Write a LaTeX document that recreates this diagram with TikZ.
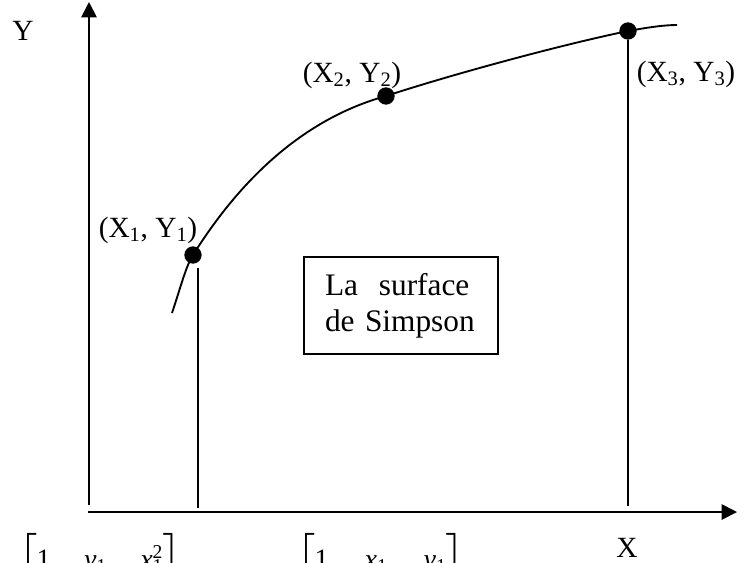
\documentclass[tikz,border=0pt]{standalone}
\usepackage{fontspec}
\setmainfont{Liberation Serif}
\usepackage{amsmath}
\usetikzlibrary{arrows.meta}
\providecommand{\ix}[1]{\textsubscript{#1}}
\providecommand{\xsq}{\textit{x}\rlap{\textsuperscript{2}}\ix{1}}
\tikzset{
  axe/.style   ={line width=1.4pt,-{Triangle[length=11.5pt,width=11.5pt]}},
  courbe/.style={line width=1.4pt},
  vlin/.style  ={line width=1.3pt},
  pnt/.style   ={circle,fill=black,inner sep=0pt,minimum size=13pt},
  lbl/.style   ={font=\fontsize{22}{26}\selectfont,inner sep=0pt},
  sbox/.style  ={draw,line width=1.3pt,align=left,text width=114pt,inner xsep=15.75pt,
                 minimum height=72.75pt,font=\fontsize{23.5}{27}\selectfont},
  mtx/.style   ={font=\fontsize{21}{25}\selectfont,inner sep=0pt,anchor=north west},
}

\begin{document}
\begin{tikzpicture}[x=0.75pt,y=-0.75pt]
  \useasboundingbox (0,0) rectangle (752,562);

  % ---------- axes ----------
  \coordinate (oy) at (89,505);
  \coordinate (ty) at (89,2);
  \coordinate (ox) at (88,512);
  \coordinate (tx) at (737,512);
  \draw[axe] (oy) -- (ty);
  \draw[axe] (ox) -- (tx);
  \node[lbl] (yl) at (23,31) {Y};
  \node[lbl] (xl) at (627,548) {X};

  % ---------- points ----------
  \node[pnt] (p1) at (193,255) {};
  \node[pnt] (p2) at (386,96) {};
  \node[pnt] (p3) at (628,31) {};
  \node[lbl] (l1) at (148,230) {(X\ix{1}, Y\ix{1})};
  \node[lbl] (l2) at (352,75) {(X\ix{2}, Y\ix{2})};
  \node[lbl] (l3) at (686,74) {(X\ix{3}, Y\ix{3})};

  % ---------- courbe ----------
  \coordinate (c0) at (172,313);
  \coordinate (c9) at (677,25);
  \draw[courbe] (c0) .. controls (181,286) and (186,266) .. (p1.center)
    .. controls (240,180) and (303,119) .. (p2.center)
    .. controls (450,75) and (560,45) .. (p3.center)
    .. controls (650,27) and (665,25) .. (c9);

  % ---------- verticales ----------
  \coordinate (h1) at (198,268);
  \coordinate (b1) at (198,508);
  \coordinate (b3) at (628,506);
  \draw[vlin] (h1) -- (b1);
  \draw[vlin] (p3) -- (b3);

  % ---------- surface ----------
  \node[sbox] (sb) at (401,305.5) {La\ \ surface\\de Simpson};

  % ---------- matrices (coupees en bas) ----------
  \node[mtx] (m1) at (18,533)
    {$\left[\begin{tabular}{@{}c@{\hspace{25pt}}c@{\hspace{25pt}}c@{}}
      \rule{0pt}{23pt}1 & \textit{y}\ix{1} & \xsq\\ \\ \\
     \end{tabular}\right]$};
  \node[mtx] (m2) at (296,533)
    {$\left[\begin{tabular}{@{}c@{\hspace{27pt}}c@{\hspace{27pt}}c@{}}
      \rule{0pt}{23pt}1 & \textit{x}\ix{1} & \textit{y}\ix{1}\\ \\ \\
     \end{tabular}\right]$};

\end{tikzpicture}
\end{document}
